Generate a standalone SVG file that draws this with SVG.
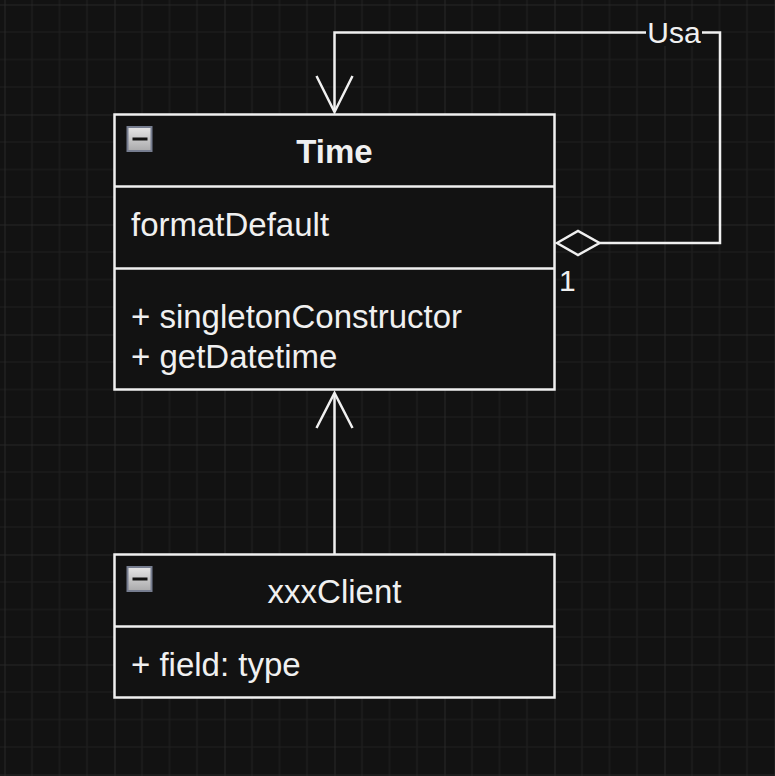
<svg xmlns="http://www.w3.org/2000/svg" width="775" height="776" viewBox="0 0 775 776">
  <defs>
    <style>
      .box { fill: #121212; stroke: #f0f0f0; stroke-width: 2.5; }
      .div { stroke: #f0f0f0; stroke-width: 2.5; fill: none; }
      .edge { stroke: #f0f0f0; stroke-width: 2.5; fill: none; }
      .txt { font-family: "Liberation Sans", Arial, sans-serif; font-size: 33px; fill: #f0f0f0; }
      .lbl { font-family: "Liberation Sans", Arial, sans-serif; font-size: 30px; fill: #f0f0f0; }
      .title { font-weight: bold; text-anchor: middle; }
      .center { text-anchor: middle; }
    </style>
    <linearGradient id="iconGrad" x1="0" y1="0" x2="0" y2="1">
      <stop offset="0" stop-color="#e6e6e6"/>
      <stop offset="1" stop-color="#a9a9ab"/>
    </linearGradient>
    <g id="icon">
      <rect x="0" y="0" width="24" height="24" fill="url(#iconGrad)" stroke="#767d8f" stroke-width="2"/>
      <rect x="5" y="10.5" width="15" height="3" fill="#111111"/>
    </g>
    <pattern id="grid" x="4.5" y="4.5" width="110" height="110" patternUnits="userSpaceOnUse">
      <path d="M27.5 0V110M55 0V110M82.5 0V110M0 27.5H110M0 55H110M0 82.5H110" stroke="#1f1f1f" stroke-width="1.2" fill="none"/>
      <path d="M0 0V110M0 0H110" stroke="#2c2c2c" stroke-width="1.6" fill="none"/>
    </pattern>
  </defs>
  <rect x="0" y="0" width="775" height="776" fill="#121212"/>
  <rect x="0" y="0" width="775" height="776" fill="url(#grid)"/>

  <g id="node-time">
    <rect class="box" x="114.5" y="114.5" width="440" height="275"/>
    <line class="div" x1="114.5" y1="186.5" x2="554.5" y2="186.5"/>
    <line class="div" x1="114.5" y1="268.5" x2="554.5" y2="268.5"/>
    <use href="#icon" x="127.5" y="127"/>
    <text class="txt title" x="334.5" y="163">Time</text>
    <text class="txt" x="131" y="236">formatDefault</text>
    <text class="txt" x="131" y="328">+ singletonConstructor</text>
    <text class="txt" x="131" y="368">+ getDatetime</text>
  </g>

  <g id="node-client">
    <rect class="box" x="114.5" y="554.5" width="440" height="143"/>
    <line class="div" x1="114.5" y1="626.5" x2="554.5" y2="626.5"/>
    <use href="#icon" x="127.5" y="567"/>
    <text class="txt center" x="334.5" y="603">xxxClient</text>
    <text class="txt" x="131" y="676">+ field: type</text>
  </g>

  <g id="connectors">
    <!-- Usa aggregation (self) -->
    <polyline class="edge" points="599.5,243 720,243 720,32.5 334.5,32.5 334.5,112"/>
    <polyline class="edge" points="316.5,76 334.5,112 352.5,76"/>
    <polygon class="edge" fill="#121212" points="557,243 578,231 599.5,243 578,255"/>
    <rect x="646" y="20" width="56" height="26" fill="#121212"/>
    <text class="lbl center" x="674" y="43">Usa</text>
    <text class="lbl" x="559" y="291">1</text>
    <!-- inheritance -->
    <line class="edge" x1="334.5" y1="554.5" x2="334.5" y2="393"/>
    <polyline class="edge" points="316.5,428 334.5,393 352.5,428"/>
  </g>
</svg>
